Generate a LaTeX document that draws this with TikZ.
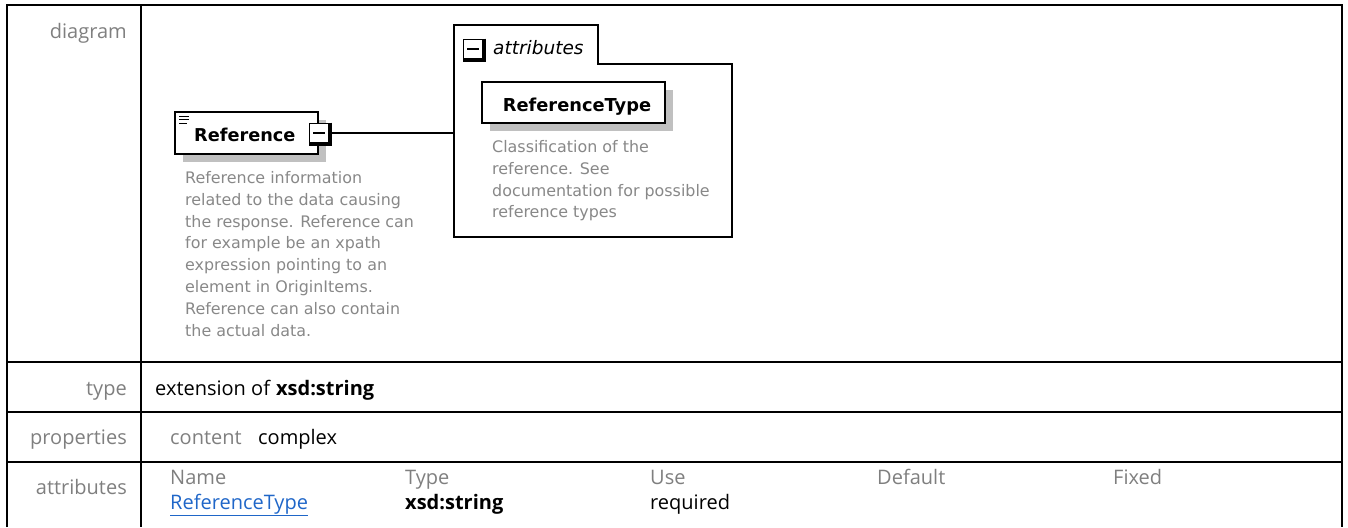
\documentclass[tikz,border=0pt]{standalone}
\usepackage{fontspec}
\setmainfont{Open Sans}
\newfontfamily\dvs{DejaVu Sans}
\usetikzlibrary{shadows}
\definecolor{labelgray}{HTML}{7F7F7F}
\definecolor{descgray}{HTML}{888888}
\definecolor{shadowgray}{HTML}{C0C0C0}
\definecolor{linkblue}{HTML}{1F66C8}
\begin{document}
\begin{tikzpicture}[x=1pt,y=-1pt,
  tline/.style={line width=2pt, black},
  rowlabel/.style={anchor=base east, inner sep=0, text=labelgray, font=\fontsize{20}{24}\selectfont},
  celltext/.style={anchor=base west, inner sep=0, font=\fontsize{20}{24}\selectfont},
  headtext/.style={celltext, text=labelgray},
  desc/.style={anchor=base west, inner sep=0, text=descgray, font=\dvs\fontsize{15.9}{21.7}\selectfont},
  elbox/.style={draw=black, line width=1.6pt, fill=white, inner sep=0,
    general shadow={fill=shadowgray, shadow xshift=8pt, shadow yshift=-8pt}},
  eltext/.style={anchor=base west, inner sep=0, font=\dvs\bfseries\fontsize{17.7}{20}\selectfont},
  minusbox/.style={draw=black, line width=1.6pt, fill=white, minimum size=19pt, inner sep=0},
  minusshade/.style={line width=2.2pt, black},
  minussign/.style={line width=1.6pt, black},
  conn/.style={line width=1.5pt, black},
]
\useasboundingbox (0,0) rectangle (1348,527);

% ---- table frame ----
\draw[tline] (7,527) -- (7,5) -- (1342,5) -- (1342,527);
\draw[tline] (141,5) -- (141,527);
\draw[tline] (7,362) -- (1342,362);
\draw[tline] (7,412) -- (1342,412);
\draw[tline] (7,462) -- (1342,462);

% ---- row labels ----
\node[rowlabel] (lbldiagram) at (127,38) {diagram};
\node[rowlabel] (lbltype) at (127,395) {type};
\node[rowlabel] (lblprops) at (127,444) {properties};
\node[rowlabel] (lblattrs) at (127,494) {attributes};

% ---- cells ----
\node[celltext] (typeval) at (155,395) {extension of \textbf{xsd:string}};
\node[headtext] (contentkey) at (170,444) {content};
\node[celltext] (contentval) at (258,444) {complex};
\node[headtext] (hname) at (170,484) {Name};
\node[headtext] (htype) at (405,484) {Type};
\node[headtext] (huse) at (650,484) {Use};
\node[headtext] (hdefault) at (877,484) {Default};
\node[headtext] (hfixed) at (1113,484) {Fixed};
\node[celltext, text=linkblue] (vname) at (170,509) {\underline{ReferenceType}};
\node[celltext] (vtype) at (405,509) {\textbf{xsd:string}};
\node[celltext] (vuse) at (650,509) {required};

% ---- attributes container ----
\node[inner sep=0, minimum width=278pt, minimum height=212pt] (attrarea) at (593,131) {};
\draw[line width=1.6pt, fill=white] (attrarea.south west) -- (attrarea.north west)
  -- ([shift={(144,0)}]attrarea.north west) -- ([shift={(144,39)}]attrarea.north west)
  -- ([shift={(0,39)}]attrarea.north east) -- (attrarea.south east) -- cycle;
\node[minusbox] (tabminus) at (473,49) {};
\draw[minusshade] ([shift={(1.2,0)}]tabminus.north east) -- ([shift={(1.2,1.2)}]tabminus.south east) -- ([shift={(0,1.2)}]tabminus.south west);
\draw[minussign] ([xshift=-6pt]tabminus.center) -- ([xshift=6pt]tabminus.center);
\node[anchor=base west, inner sep=0, font=\dvs\itshape\fontsize{18.5}{20}\selectfont] (attrtitle) at (493,55) {attributes};

% ---- ReferenceType element ----
\node[elbox, minimum width=183pt, minimum height=41pt] (rtbox) at (573.5,102.5) {};
\node[anchor=base, inner sep=0, font=\dvs\bfseries\fontsize{17.8}{20}\selectfont] (rtlabel) at (577,111) {ReferenceType};
\foreach \t [count=\i from 0] in {Classification of the, reference. See, documentation for possible, reference types}
  \node[desc] (rtdesc\i) at (492,{152.5+21.8*\i}) {\t};

% ---- Reference element ----
\node[elbox, minimum width=143pt, minimum height=42pt] (ref) at (246.5,133) {};
\draw[line width=1pt] (179,116) -- (189,116) (179,119.5) -- (189,119.5) (179,123) -- (187,123);
\node[eltext] (reflabel) at (194,141) {Reference};
\node[minusbox] (refminus) at (319,133) {};
\draw[minusshade] ([shift={(1.2,0)}]refminus.north east) -- ([shift={(1.2,1.2)}]refminus.south east) -- ([shift={(0,1.2)}]refminus.south west);
\draw[minussign] ([xshift=-6pt]refminus.center) -- ([xshift=6pt]refminus.center);
\foreach \t [count=\i from 0] in {Reference information, related to the data causing, the response. Reference can, for example be an xpath, expression pointing to an, element in OriginItems., Reference can also contain, the actual data.}
  \node[desc] (refdesc\i) at (185,{183.5+21.8*\i}) {\t};

% ---- connector ----
\draw[conn] (refminus.east) -- (refminus.east -| attrarea.west);
\end{tikzpicture}
\end{document}
